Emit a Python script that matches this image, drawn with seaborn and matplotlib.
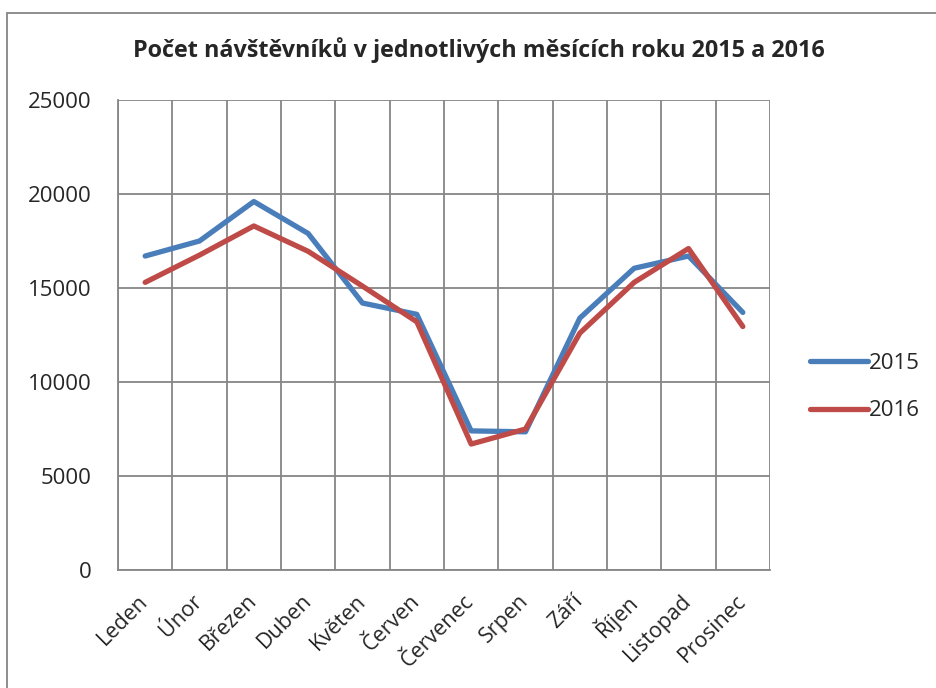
import matplotlib
matplotlib.use("Agg")
import matplotlib.pyplot as plt
import numpy as np
import pandas as pd
import seaborn as sns
from matplotlib.lines import Line2D
from matplotlib.patches import Rectangle
from matplotlib.ticker import FixedLocator, MultipleLocator

months = ["Leden", "Únor", "Březen", "Duben", "Květen", "Červen",
          "Červenec", "Srpen", "Září", "Říjen", "Listopad", "Prosinec"]
visitors_2015 = [16700, 17500, 19600, 17900, 14200, 13600,
                 7400, 7350, 13400, 16050, 16700, 13700]
visitors_2016 = [15300, 16750, 18300, 16950, 15100, 13200,
                 6700, 7500, 12600, 15300, 17100, 12950]
years = ["2015", "2016"]

df = pd.DataFrame({
    "month": months * 2,
    "pos": list(range(len(months))) * 2,
    "year": [years[0]] * len(months) + [years[1]] * len(months),
    "count": visitors_2015 + visitors_2016,
})

sns.set_theme(style="white")
plt.rcParams["font.family"] = ["Open Sans", "DejaVu Sans"]

grid_col = "#868686"
colors = {"2015": "#4A7EBB", "2016": "#BE4B48"}

fig = plt.figure(figsize=(9.36, 6.88), dpi=100)
ax = fig.add_axes([118 / 936, 1 - 570 / 688, (770 - 118) / 936, (570 - 100) / 688])

sns.lineplot(data=df, x="pos", y="count", hue="year", palette=colors,
             linewidth=3.8, ax=ax, legend=False, sort=False)
for line in ax.lines:
    line.set_solid_capstyle("round")
    line.set_solid_joinstyle("round")

ax.set_xlim(-0.5, len(months) - 0.5)
ax.set_ylim(0, 25000)
ax.yaxis.set_major_locator(MultipleLocator(5000))
ax.xaxis.set_major_locator(FixedLocator(np.arange(len(months))))
ax.xaxis.set_minor_locator(FixedLocator(np.arange(len(months) + 1) - 0.5))
ax.set_xticklabels(months, rotation=45, ha="right", va="center",
                   rotation_mode="anchor", fontsize=15.5)
ax.tick_params(axis="x", which="major", length=0, pad=20)
ax.tick_params(axis="x", which="minor", length=6, width=1.3, color=grid_col, direction="out")
ax.tick_params(axis="y", length=7, width=1.3, color=grid_col, direction="out", pad=12, labelsize=16)
ax.grid(True, axis="y", color=grid_col, linewidth=1.3)
ax.grid(True, axis="x", which="minor", color=grid_col, linewidth=1.3)
ax.set_axisbelow(True)
for side in ["top", "right"]:
    ax.spines[side].set_visible(False)
for side in ["left", "bottom"]:
    ax.spines[side].set_color(grid_col)
    ax.spines[side].set_linewidth(1.3)
ax.set_xlabel("")
ax.set_ylabel("")

handles = [Line2D([], [], color=colors[y], linewidth=3.8, solid_capstyle="round")
           for y in years]
fig.legend(handles, years, loc="center left", bbox_to_anchor=(790 / 936, 1 - 387 / 688),
           frameon=False, fontsize=16, handlelength=2.6, handletextpad=0.05,
           labelspacing=1.2)

fig.text(479 / 936, 1 - 50 / 688, "Počet návštěvníků v jednotlivých měsících roku 2015 a 2016",
         ha="center", va="center", fontsize=16.8, fontweight="bold")

fig.patches.append(Rectangle((7 / 936, -0.05), 1.2, 1 - 12.5 / 688 + 0.05,
                             transform=fig.transFigure, fill=False,
                             edgecolor=grid_col, linewidth=1.3))

fig.savefig("out.png", dpi=100)
